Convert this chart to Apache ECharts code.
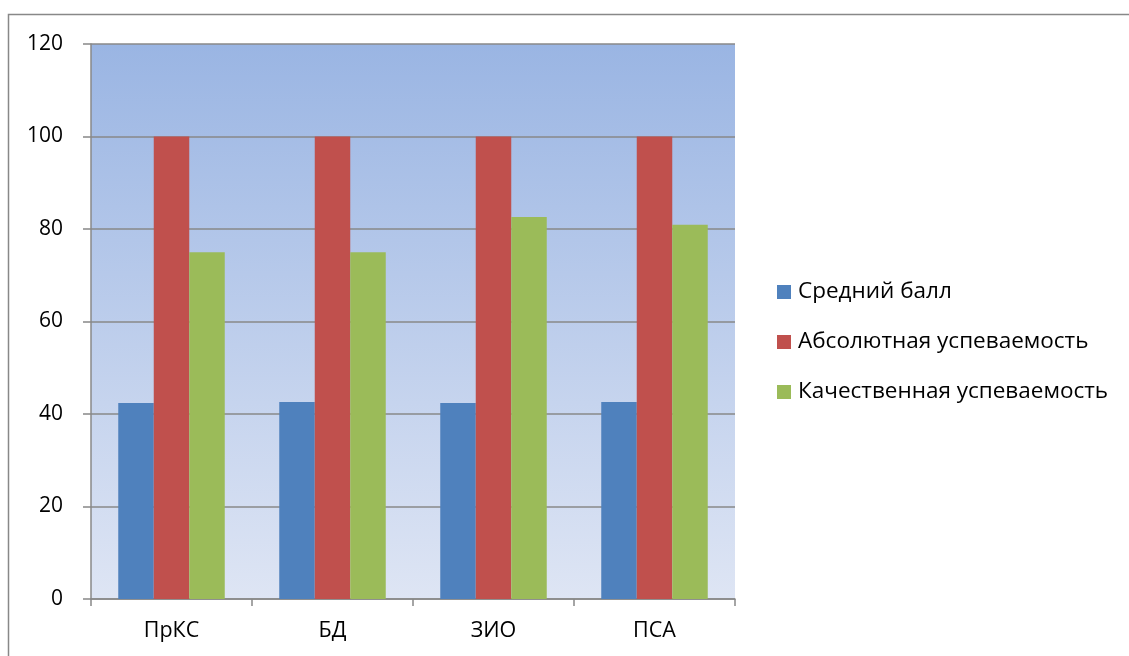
<!DOCTYPE html>
<html>
<head>
<meta charset="utf-8">
<script src="https://cdn.jsdelivr.net/npm/echarts@6/dist/echarts.min.js"></script>
<style>
html,body{margin:0;padding:0;background:#fff;}
#c{width:1129px;height:656px;}
</style>
</head>
<body>
<div id="c"></div>
<script>
var categories = ['ПрКС', 'БД', 'ЗИО', 'ПСА'];
var seriesNames = ['Средний балл', 'Абсолютная успеваемость', 'Качественная успеваемость'];
var avgScore = [42.4, 42.6, 42.4, 42.6];
var absPerf = [100, 100, 100, 100];
var qualPerf = [75, 75, 82.6, 80.9];
var yTicks = { min: 0, max: 120, interval: 20 };
var colors = ['#4F81BD', '#C0504D', '#9BBB59'];

var font = '"Open Sans", "Liberation Sans", Arial, sans-serif';
var chart = echarts.init(document.getElementById('c'), null, { renderer: 'canvas' });
function bar(name, data, color) {
  return {
    name: name, type: 'bar', data: data, barWidth: 35.5, barGap: '0%',
    itemStyle: { color: color }
  };
}
chart.setOption({
  animation: false,
  color: colors,
  graphic: [{
    type: 'rect', shape: { x: 8.5, y: 14.5, width: 1200, height: 700 },
    style: { fill: 'none', stroke: '#888', lineWidth: 1.5 }, z: -10
  }],
  grid: {
    left: 91, top: 44, right: 394, bottom: 57, show: true, borderWidth: 0,
    backgroundColor: {
      type: 'linear', x: 0, y: 0, x2: 0, y2: 1,
      colorStops: [{ offset: 0, color: '#9AB5E3' }, { offset: 1, color: '#DEE5F4' }]
    }
  },
  legend: {
    orient: 'vertical', left: 777, top: 280, padding: 0, itemWidth: 14, itemHeight: 14, itemGap: 26,
    icon: 'rect',
    textStyle: { fontFamily: font, fontSize: 22.5, lineHeight: 24, color: '#000', padding: [0, 0, 0, 2] },
    data: seriesNames
  },
  xAxis: {
    type: 'category', data: categories,
    axisLine: { lineStyle: { color: '#888', width: 1.5 } },
    axisTick: { show: true, length: 7, lineStyle: { color: '#888', width: 1.5 } },
    axisLabel: { margin: 21, fontFamily: font, fontSize: 21.5, color: '#000' }
  },
  yAxis: {
    type: 'value', min: yTicks.min, max: yTicks.max, interval: yTicks.interval,
    axisLine: { show: true, lineStyle: { color: '#888', width: 1.5 } },
    axisTick: { show: true, length: 8, lineStyle: { color: '#888', width: 1.5 } },
    splitLine: { lineStyle: { color: '#888', width: 1.5 } },
    axisLabel: { margin: 28, fontFamily: font, fontSize: 21, color: '#000' }
  },
  series: [
    bar(seriesNames[0], avgScore, colors[0]),
    bar(seriesNames[1], absPerf, colors[1]),
    bar(seriesNames[2], qualPerf, colors[2])
  ]
});
</script>
</body>
</html>
